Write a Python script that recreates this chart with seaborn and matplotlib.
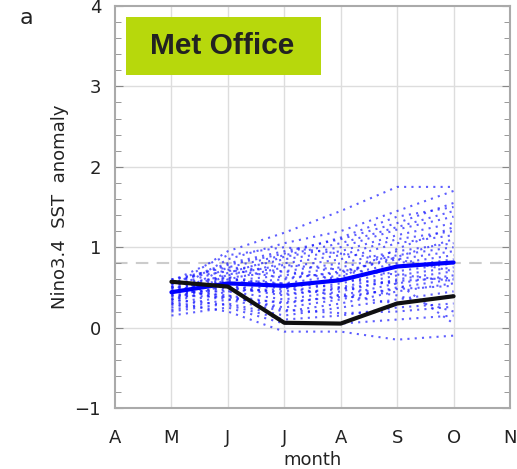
import numpy as np
import pandas as pd
import matplotlib
matplotlib.use("Agg")
import matplotlib.pyplot as plt
import seaborn as sns
from matplotlib.ticker import MultipleLocator
from matplotlib.patches import Rectangle

sns.set_style("white")

month_labels = ["A", "M", "J", "J", "A", "S", "O", "N"]
fc_months = [1, 2, 3, 4, 5, 6]  # M .. O

members = [
    [0.50, 0.95, 1.18, 1.45, 1.75, 1.75],
    [0.45, 0.85, 1.05, 1.20, 1.45, 1.70],
    [0.55, 0.80, 0.95, 1.10, 1.30, 1.55],
    [0.40, 0.75, 0.90, 1.05, 1.25, 1.45],
    [0.60, 0.70, 0.85, 0.95, 1.15, 1.30],
    [0.50, 0.65, 0.80, 0.90, 1.10, 1.20],
    [0.35, 0.60, 0.75, 0.85, 1.05, 1.15],
    [0.55, 0.62, 0.70, 0.80, 0.95, 1.05],
    [0.45, 0.58, 0.65, 0.75, 0.90, 1.00],
    [0.30, 0.55, 0.60, 0.70, 0.85, 0.95],
    [0.50, 0.55, 0.55, 0.65, 0.80, 0.90],
    [0.40, 0.50, 0.50, 0.60, 0.75, 0.85],
    [0.35, 0.48, 0.45, 0.55, 0.70, 0.80],
    [0.55, 0.50, 0.40, 0.50, 0.65, 0.75],
    [0.45, 0.45, 0.35, 0.45, 0.60, 0.70],
    [0.25, 0.40, 0.30, 0.40, 0.55, 0.65],
    [0.40, 0.38, 0.25, 0.35, 0.50, 0.60],
    [0.50, 0.35, 0.20, 0.30, 0.45, 0.55],
    [0.20, 0.30, 0.15, 0.25, 0.35, 0.45],
    [0.35, 0.28, 0.10, 0.15, 0.25, 0.30],
    [0.15, 0.25, 0.05, 0.05, 0.10, 0.15],
    [0.30, 0.20, -0.05, -0.05, -0.15, -0.10],
    [0.45, 0.60, 0.55, 0.50, 0.40, 0.20],
    [0.60, 0.75, 0.70, 0.60, 0.55, 0.05],
    [0.42, 0.68, 0.88, 1.00, 1.22, 1.38],
    [0.52, 0.72, 0.62, 0.68, 0.88, 1.10],
    [0.38, 0.52, 0.42, 0.48, 0.58, 0.62],
    [0.48, 0.62, 0.50, 0.40, 0.30, 0.40],
    [0.28, 0.45, 0.48, 0.62, 0.98, 1.25],
    [0.58, 0.90, 1.00, 0.92, 0.85, 0.70],
    [0.32, 0.66, 0.78, 0.72, 0.66, 0.58],
    [0.46, 0.40, 0.22, 0.18, 0.20, 0.26],
    [0.22, 0.35, 0.32, 0.38, 0.48, 0.52],
    [0.54, 0.78, 0.92, 1.12, 1.38, 1.50],
]
ens_mean = [0.44, 0.55, 0.52, 0.59, 0.76, 0.81]
observed = [0.57, 0.51, 0.06, 0.05, 0.30, 0.39]
ref_level = 0.8

rows = []
for i, m in enumerate(members):
    for x, v in zip(fc_months, m):
        rows.append({"member": i, "month": x, "value": v})
df = pd.DataFrame(rows)
df_mean = pd.DataFrame({"month": fc_months, "value": ens_mean})
df_obs = pd.DataFrame({"month": fc_months, "value": observed})

fig = plt.figure(figsize=(5.17, 4.69), dpi=100)
ax = fig.add_axes([115 / 517, 1 - 408 / 469, 395 / 517, 402 / 469])

ax.set_xlim(0, 7)
ax.set_ylim(-1, 4)
for x in range(1, 7):
    ax.axvline(x, color="#dddddd", lw=1, zorder=0)
for y in range(0, 4):
    ax.axhline(y, color="#dddddd", lw=1, zorder=0)
ax.axhline(ref_level, color="#cccccc", lw=1.5, ls=(0, (6, 4)), zorder=0.5)

sns.lineplot(data=df, x="month", y="value", units="member", estimator=None,
             color="#1a1aff", lw=1.5, ls=(0, (1, 2.5)), alpha=0.7, ax=ax, legend=False)
sns.lineplot(data=df_mean, x="month", y="value", color="#0000ff", lw=3, ax=ax)
sns.lineplot(data=df_obs, x="month", y="value", color="#111111", lw=3, ax=ax)

ax.set_xticks(range(0, 8))
ax.set_xticklabels(month_labels)
ax.set_yticks(range(-1, 5))
ax.set_yticklabels(["\u22121", "0", "1", "2", "3", "4"])
ax.yaxis.set_minor_locator(MultipleLocator(0.2))
ax.tick_params(axis="y", which="both", direction="in", left=True, right=True,
               color="#888888", length=4, labelsize=13, labelcolor="#222222", pad=10)
ax.tick_params(axis="y", which="major", length=6)
ax.tick_params(axis="x", length=0, labelsize=13, labelcolor="#222222", pad=15)
for s in ax.spines.values():
    s.set_color("#aaaaaa")
    s.set_linewidth(1.5)

ax.set_xlabel("month", fontsize=13, color="#222222", labelpad=3)
ax.set_ylabel("Nino3.4  SST  anomaly", fontsize=13, color="#222222", labelpad=4)

fig.text(20 / 517, 1 - 18 / 469, "a", fontsize=16, color="#222222", va="center", ha="left")
fig.add_artist(Rectangle((126 / 517, 1 - 75 / 469), 195 / 517, 58 / 469,
                         transform=fig.transFigure, fc="#b7d80c", ec="none", zorder=5))
fig.text(222 / 517, 1 - 46 / 469, "Met Office", fontsize=21.5, fontweight="bold",
         family="Liberation Sans", color="#222222", ha="center", va="center", zorder=6)

fig.savefig("out.png", dpi=100)
